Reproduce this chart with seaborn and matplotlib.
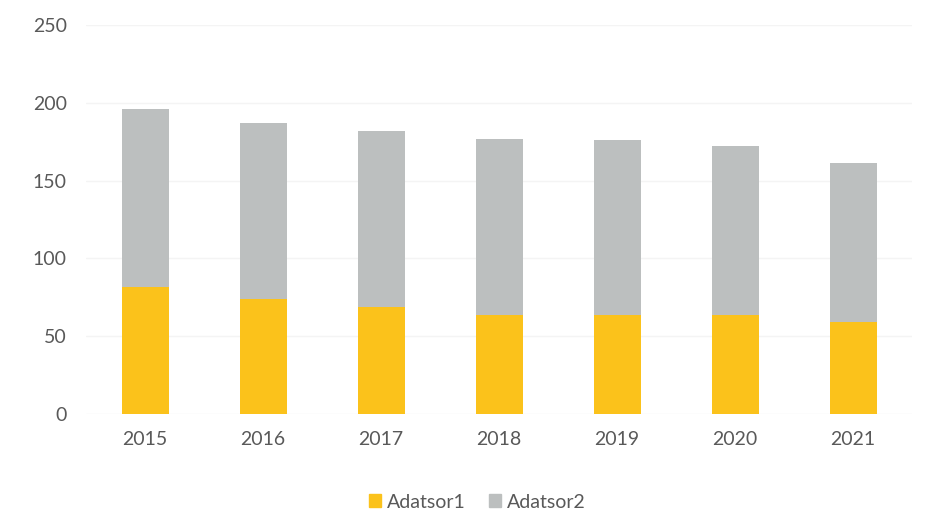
import numpy as np
import pandas as pd
import matplotlib.pyplot as plt
import matplotlib.patches as mpatches
import seaborn as sns

# values
years = ['2015', '2016', '2017', '2018', '2019', '2020', '2021']
adatsor1 = [82, 74, 69, 64, 64, 64, 59]
adatsor2 = [114, 113, 113, 113, 112, 108, 102]

df = pd.DataFrame({'ev': years, 'Adatsor1': adatsor1, 'Adatsor2': adatsor2})
df['total'] = df['Adatsor1'] + df['Adatsor2']

sns.set_style('white')
plt.rcParams['font.family'] = ['Lato', 'DejaVu Sans']

yellow = '#FBC21B'
grey = '#BCBFBF'
txt = '#595959'

fig = plt.figure(figsize=(9.27, 5.29), dpi=100)
ax = fig.add_axes([0.093, 0.217, 0.891, 0.736])

# stacked bars: total in grey first, then the lower series on top of it
sns.barplot(data=df, x='ev', y='total', color=grey, width=0.4, saturation=1,
            linewidth=0, ax=ax, zorder=2)
sns.barplot(data=df, x='ev', y='Adatsor1', color=yellow, width=0.4, saturation=1,
            linewidth=0, ax=ax, zorder=3)

ax.set_ylim(0, 250)
ax.set_yticks(np.arange(0, 251, 50))
ax.set_xlim(-0.5, len(years) - 0.5)
ax.yaxis.grid(True, color='#F4F4F4', linewidth=1, zorder=0)
ax.set_axisbelow(True)
for s in ax.spines.values():
    s.set_visible(False)
ax.set_xlabel('')
ax.set_ylabel('')
ax.tick_params(axis='both', length=0, labelsize=14, labelcolor=txt)
ax.tick_params(axis='y', pad=14)
ax.tick_params(axis='x', pad=12)

handles = [mpatches.Patch(color=yellow, label='Adatsor1'),
           mpatches.Patch(color=grey, label='Adatsor2')]
leg = fig.legend(handles=handles, loc='center', bbox_to_anchor=(0.515, 0.051), ncol=2,
                 frameon=False, fontsize=14, handlelength=0.6, handleheight=0.6,
                 handletextpad=0.3, columnspacing=1.2)
for t in leg.get_texts():
    t.set_color(txt)

plt.savefig('out.png', dpi=100)
